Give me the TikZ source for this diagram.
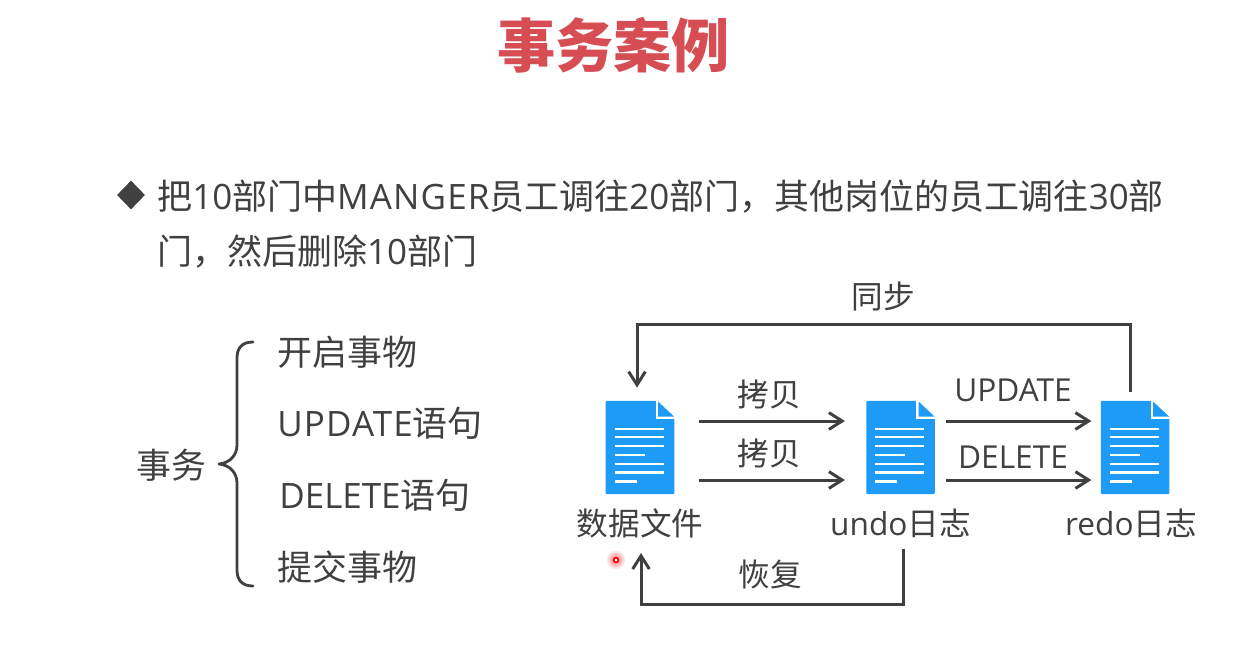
\documentclass[tikz,border=0pt]{standalone}
\usepackage{fontspec}
\setmainfont{Noto Sans CJK SC}
\newfontfamily\latinfont{Open Sans}
\newfontfamily\widefont[LetterSpace=3.3]{Open Sans}
\usetikzlibrary{arrows.meta,shapes.geometric}

\definecolor{inkgray}{RGB}{64,64,64}
\definecolor{titlered}{RGB}{214,78,84}
\definecolor{fileblue}{RGB}{30,154,247}

\newcommand{\la}[1]{{\latinfont #1}}
\newcommand{\lawide}[1]{{\widefont #1}}

\tikzset{
    label/.style={text=inkgray,inner sep=0pt,font=\fontsize{18}{20}\selectfont},
    bigtext/.style={text=inkgray,inner sep=0pt,anchor=west,font=\fontsize{19.9}{22}\selectfont},
    flow/.style={draw=inkgray,line width=1.7pt,-{Straight Barb[length=7.5pt,width=9.5pt,line width=1.7pt]}},
    fileicon/.style={fill=fileblue,minimum width=39pt,minimum height=53pt,inner sep=0pt,rounded corners=0.5pt}
}

\newcommand{\fileglyph}[1]{
    % cut corner and text lines of one file icon
    \fill[white] ([shift={(-19,-0.5)}]#1.north east) rectangle ([shift={(0.5,18)}]#1.north east);
    \fill[fileblue] ([shift={(-16.5,1)}]#1.north east) -- ([shift={(-16.5,16)}]#1.north east) -- ([shift={(-0.5,16)}]#1.north east) -- cycle;
    \foreach \row/\len in {27/49,35.5/49,44/49,53/30,62/49,70.7/49,79.7/22} {
        \fill[white] ([shift={(9.5,\row)}]#1.north west) rectangle ++(\len,2.2);
    }
}

\begin{document}
\begin{tikzpicture}[x=0.02cm,y=-0.02cm]
    \useasboundingbox (0,0) rectangle (1250,650);
    \fill[white] (0,0) rectangle (1250,650);

    \node[text=titlered,inner sep=0pt,font=\fontsize{33.1}{36}\selectfont\bfseries] (title) at (613.5,45) {事务案例};

    \node[diamond,fill=inkgray,minimum width=16pt,minimum height=16.5pt,inner sep=0pt] (bullet) at (131,195) {};
    \node[bigtext] (lineone) at (157,197) {把\la{10}部门中\lawide{MANGER}员工调往\la{20}部门，其他岗位的员工调往\la{30}部};
    \node[bigtext] (linetwo) at (157,252) {门，然后删除\la{10}部门};

    % left part
    \node[bigtext] (tx) at (136.5,465) {事务};
    \node[bigtext] (open) at (277,352) {开启事物};
    \node[bigtext] (update) at (277,423) {\lawide{UPDATE}语句};
    \node[bigtext] (delete) at (279,495) {\la{DELETE}语句};
    \node[bigtext] (commit) at (277,567) {提交事物};
    \draw[inkgray,line width=1.6pt,line cap=round,line join=round] (253,342) .. controls (242,342) and (237,348) .. (237,358)
        -- (237,445) .. controls (237,455) and (230,463) .. (219,464)
        .. controls (230,465) and (237,473) .. (237,483)
        -- (237,570) .. controls (237,580) and (242,586) .. (253,586);

    % files
    \node[fileicon] (datafile) at (640,447.5) {};
    \node[fileicon] (undofile) at (900.5,447.5) {};
    \node[fileicon] (redofile) at (1135,447.5) {};
    \fileglyph{datafile}
    \fileglyph{undofile}
    \fileglyph{redofile}
    \node[label] (datalabel) at (640,523) {数据文件};
    \node[label] (undolabel) at (900.5,523) {\la{undo}日志};
    \node[label] (redolabel) at (1131,523) {\la{redo}日志};

    % arrows
    \draw[flow] ([shift={(24.5,-26.5)}]datafile.east) -- ([shift={(-21,-26.5)}]undofile.west);
    \draw[flow] ([shift={(24.5,32.5)}]datafile.east) -- ([shift={(-21,32.5)}]undofile.west);
    \draw[flow] ([shift={(11,-26.5)}]undofile.east) -- ([shift={(-9,-26.5)}]redofile.west);
    \draw[flow] ([shift={(11,32.5)}]undofile.east) -- ([shift={(-9,32.5)}]redofile.west);
    \draw[flow] ([shift={(-5,-9)}]redofile.north) -- ++(0,-67) -| ([shift={(-3,-13)}]datafile.north);
    \draw[flow] ([shift={(2.5,11)}]undolabel.south) -- ++(0,55.5) -| ([shift={(1,15)}]datalabel.south);

    \node[label] (copyone) at (769.5,394) {拷贝};
    \node[label] (copytwo) at (769.5,453) {拷贝};
    \node[label] (updatelabel) at (1013,390) {\la{UPDATE}};
    \node[label] (deletelabel) at (1013,457) {\la{DELETE}};
    \node[label] (synclabel) at (883,297) {同步};
    \node[label] (restorelabel) at (770,574) {恢复};

    % pointer
    \fill[red,opacity=0.12] (616,560) circle (9);
    \fill[red,opacity=0.18] (616,560) circle (6.5);
    \draw[red,line width=1pt,fill=white] (616,560) circle (2.5);
\end{tikzpicture}
\end{document}
